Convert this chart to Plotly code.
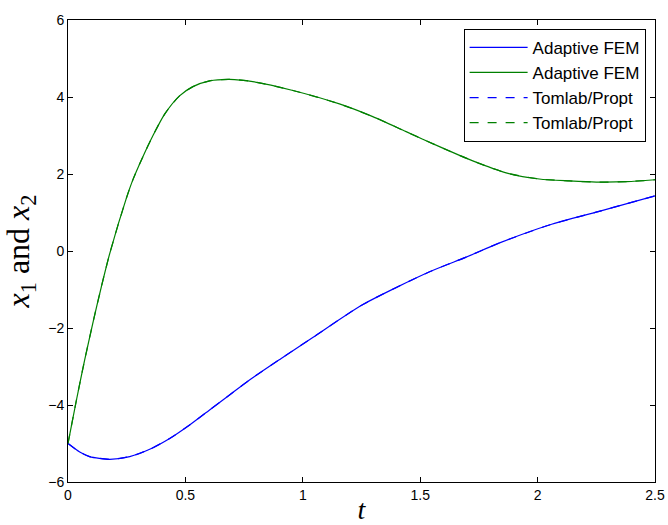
import plotly.graph_objects as go

# State trajectories x1(t) and x2(t)
t_x1 = [0.0, 0.05, 0.092, 0.178, 0.263, 0.348, 0.433, 0.518, 0.603, 0.688,
        0.773, 0.908, 1.044, 1.256, 1.54, 1.696, 1.838, 2.05, 2.262, 2.5]
x1 = [-5.0, -5.22, -5.34, -5.41, -5.34, -5.15, -4.87, -4.52, -4.13, -3.74,
      -3.35, -2.79, -2.24, -1.39, -0.54, -0.16, 0.21, 0.675, 1.03, 1.43]

t_x2 = [0.0, 0.036, 0.071, 0.107, 0.142, 0.178, 0.248, 0.277, 0.319, 0.362,
        0.411, 0.475, 0.532, 0.603, 0.688, 0.787, 0.958, 1.156, 1.298, 1.44,
        1.582, 1.724, 1.866, 2.007, 2.135, 2.25, 2.38, 2.5]
x2 = [-5.0, -3.87, -2.83, -1.84, -0.93, -0.06, 1.36, 1.86, 2.45, 3.0,
      3.55, 4.03, 4.27, 4.42, 4.46, 4.40, 4.17, 3.82, 3.49, 3.10,
      2.71, 2.34, 2.03, 1.87, 1.82, 1.79, 1.80, 1.85]

x_ticks = [0, 0.5, 1, 1.5, 2, 2.5]
x_tick_text = ["0", "0.5", "1", "1.5", "2", "2.5"]
y_ticks = [-6, -4, -2, 0, 2, 4, 6]

BLUE = "rgb(0,0,255)"
GREEN = "rgb(0,128,0)"


def curve(t, y, name, color, dash="solid"):
    return go.Scatter(x=t, y=y, mode="lines", name=name,
                      line=dict(color=color, width=1.2, dash=dash,
                                shape="spline", smoothing=0.7))


fig = go.Figure()
fig.add_trace(curve(t_x1, x1, "Adaptive FEM", BLUE))
fig.add_trace(curve(t_x2, x2, "Adaptive FEM", GREEN))
fig.add_trace(curve(t_x1, x1, "Tomlab/Propt", BLUE, "dash"))
fig.add_trace(curve(t_x2, x2, "Tomlab/Propt", GREEN, "dash"))

axis_common = dict(
    showgrid=False, zeroline=False, showline=True, linecolor="black",
    linewidth=1, mirror="allticks", ticks="inside", ticklen=5,
    tickcolor="black", automargin=False,
    tickfont=dict(family="Liberation Sans, Arial", size=14, color="black"),
)

fig.update_layout(
    width=668, height=525,
    margin=dict(l=68, r=13, t=20, b=43),
    paper_bgcolor="white", plot_bgcolor="white",
    showlegend=True,
    legend=dict(
        x=0.984, y=0.981, xanchor="right", yanchor="top",
        bgcolor="white", bordercolor="black", borderwidth=1,
        font=dict(family="Liberation Sans, Arial", size=17, color="black"),
        tracegroupgap=0, itemwidth=58,
    ),
    xaxis=dict(range=[0, 2.5], tickvals=x_ticks, ticktext=x_tick_text,
               title=dict(text="<i>t</i>", standoff=4,
                          font=dict(family="Liberation Serif, DejaVu Serif",
                                    size=28, color="black")),
               **axis_common),
    yaxis=dict(range=[-6, 6], tickvals=y_ticks,
               title=dict(text="<i>x</i><sub>1</sub> and <i>x</i><sub>2</sub>",
                          standoff=10,
                          font=dict(family="Liberation Serif, DejaVu Serif",
                                    size=32, color="black")),
               **axis_common),
)

fig.write_html("out.html")
